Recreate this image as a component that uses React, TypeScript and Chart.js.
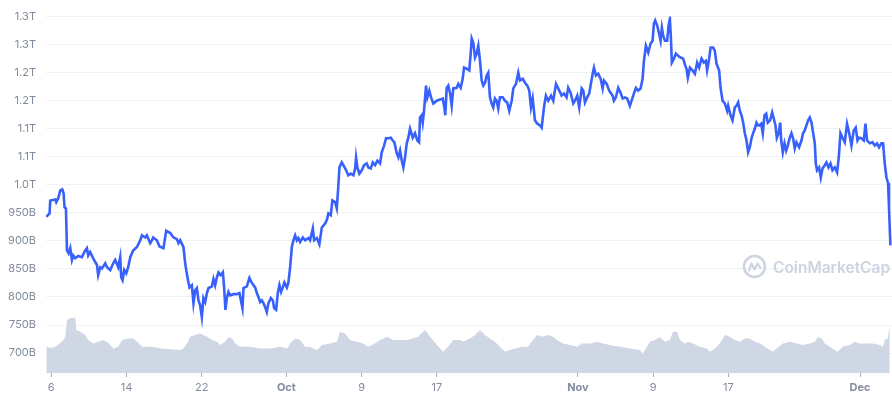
import { useEffect, useRef } from "react";
import { Chart, registerables } from "chart.js";

Chart.register(...registerables);

// Day of the timeline (1 = Sep 1, 31 = Oct 1, 62 = Nov 1, 92 = Dec 1)
const capDays = [
  5.47, 5.82, 5.89, 6.43, 6.53, 6.74, 6.96, 7.17, 7.31, 7.41, 7.56, 7.67, 7.84, 8.02, 8.2, 8.34, 8.55, 8.87, 9.26, 9.61,
  9.79, 9.93, 10.14, 10.46, 10.86, 10.99, 11.21, 11.39, 11.74, 11.92, 12.27, 12.59, 12.8, 13.12, 13.33, 13.44, 13.58, 13.76, 13.97, 14.18,
  14.4, 14.71, 15.11, 15.46, 15.64, 15.99, 16.17, 16.52, 16.7, 16.84, 17.23, 17.51, 17.93, 18.22, 18.65, 19.0, 19.36, 19.53, 19.71, 20.06,
  20.24, 20.48, 20.7, 20.95, 21.12, 21.3, 21.48, 21.65, 21.83, 22.01, 22.18, 22.37, 22.55, 22.72, 23.08, 23.25, 23.43, 23.61, 23.78, 24.03,
  24.25, 24.38, 24.52, 24.67, 24.84, 25.02, 25.37, 25.73, 26.01, 26.16, 26.33, 26.44, 26.8, 27.07, 27.33, 27.68, 27.86, 28.03, 28.21, 28.39,
  28.56, 28.74, 28.92, 29.09, 29.35, 29.56, 29.7, 29.91, 30.09, 30.26, 30.44, 30.62, 30.79, 31.05, 31.22, 31.4, 31.58, 31.75, 31.93, 32.11,
  32.28, 32.46, 32.75, 32.99, 33.34, 33.52, 33.81, 33.95, 34.24, 34.51, 34.77, 35.12, 35.3, 35.47, 35.72, 35.89, 36.18, 36.36, 36.53, 36.64,
  36.89, 37.06, 37.35, 37.59, 37.85, 38.13, 38.31, 38.41, 38.55, 38.76, 39.02, 39.26, 39.55, 39.72, 39.97, 40.19, 40.43, 40.68, 40.96, 41.14,
  41.39, 41.6, 41.85, 42.1, 42.31, 42.48, 42.74, 42.91, 43.09, 43.27, 43.44, 43.62, 43.8, 43.97, 44.15, 44.44, 44.68, 44.93, 45.11, 45.21,
  45.39, 45.5, 45.64, 45.85, 45.99, 46.2, 46.38, 46.63, 46.99, 47.34, 47.63, 47.8, 47.9, 48.05, 48.22, 48.4, 48.58, 48.75, 49.11, 49.28,
  49.54, 49.75, 49.89, 50.18, 50.45, 50.6, 50.71, 50.88, 51.06, 51.24, 51.41, 51.59, 51.77, 51.94, 52.12, 52.3, 52.47, 52.65, 52.83, 53.0,
  53.18, 53.36, 53.53, 53.71, 54.0, 54.25, 54.49, 54.7, 54.96, 55.13, 55.42, 55.66, 55.84, 56.13, 56.37, 56.62, 56.83, 57.01, 57.19, 57.43,
  57.68, 57.97, 58.15, 58.39, 58.6, 58.85, 59.14, 59.38, 59.67, 59.91, 60.27, 60.52, 60.8, 60.97, 61.23, 61.51, 61.69, 61.93, 62.14, 62.4,
  62.57, 62.75, 62.99, 63.21, 63.35, 63.57, 63.71, 63.92, 64.16, 64.42, 64.63, 64.77, 65.06, 65.33, 65.69, 65.83, 66.04, 66.29, 66.54, 66.76,
  67.0, 67.24, 67.53, 67.71, 67.96, 68.17, 68.41, 68.67, 68.88, 69.02, 69.23, 69.48, 69.73, 69.94, 70.08, 70.22, 70.43, 70.64, 70.79, 70.93,
  71.07, 71.25, 71.49, 71.64, 71.78, 71.89, 71.99, 72.21, 72.42, 72.66, 72.92, 73.19, 73.41, 73.55, 73.69, 73.91, 74.19, 74.44, 74.68, 74.89,
  75.15, 75.39, 75.61, 75.74, 75.96, 76.11, 76.38, 76.56, 76.74, 77.02, 77.17, 77.38, 77.63, 77.87, 77.98, 78.23, 78.44, 78.69, 78.87, 79.04,
  79.22, 79.4, 79.57, 79.75, 79.93, 80.1, 80.28, 80.46, 80.63, 80.81, 80.99, 81.16, 81.31, 81.49, 81.66, 81.84, 82.02, 82.19, 82.44, 82.66,
  82.8, 83.01, 83.15, 83.36, 83.51, 83.62, 83.79, 83.97, 84.15, 84.32, 84.53, 84.71, 84.88, 85.06, 85.24, 85.52, 85.77, 85.94, 86.12, 86.3,
  86.48, 86.66, 86.84, 87.01, 87.19, 87.3, 87.43, 87.65, 87.83, 88.01, 88.25, 88.43, 88.65, 88.86, 89.07, 89.32, 89.56, 89.74, 89.92, 90.14,
  90.38, 90.62, 90.84, 91.09, 91.33, 91.54, 91.73, 91.9, 92.15, 92.4, 92.58, 92.75, 93.04, 93.32, 93.57, 93.81, 94.02, 94.28, 94.45, 94.63,
  94.81, 94.98, 95.08, 95.23,
];

// Market cap, in billions of USD
const capBillions = [
  943, 949, 972, 974, 969, 976, 990, 992, 985, 960, 958, 883, 878, 887, 866, 874, 869, 873, 871, 883,
  887, 874, 880, 869, 857, 839, 853, 851, 860, 853, 848, 860, 866, 853, 871, 835, 830, 848, 842, 853,
  871, 883, 889, 901, 910, 906, 910, 896, 901, 906, 901, 890, 887, 918, 914, 906, 903, 896, 901, 889,
  860, 835, 817, 821, 789, 812, 816, 794, 785, 764, 798, 791, 807, 816, 819, 832, 821, 835, 844, 839,
  844, 817, 777, 798, 809, 803, 805, 805, 807, 794, 780, 816, 819, 834, 825, 817, 807, 800, 791, 794,
  789, 782, 773, 789, 798, 794, 780, 777, 807, 821, 809, 817, 826, 817, 826, 853, 889, 901, 910, 901,
  905, 898, 906, 901, 905, 901, 922, 901, 905, 894, 924, 931, 937, 949, 946, 972, 969, 958, 999, 1031,
  1040, 1035, 1026, 1017, 1020, 1017, 1029, 1049, 1031, 1020, 1026, 1035, 1038, 1031, 1029, 1040, 1035, 1043, 1038, 1058,
  1070, 1083, 1083, 1084, 1079, 1076, 1056, 1049, 1061, 1043, 1031, 1049, 1074, 1084, 1100, 1084, 1092, 1079, 1076, 1120,
  1124, 1111, 1132, 1177, 1156, 1168, 1156, 1145, 1150, 1152, 1154, 1138, 1124, 1173, 1177, 1164, 1141, 1172, 1173, 1180,
  1173, 1189, 1209, 1207, 1204, 1234, 1261, 1253, 1227, 1234, 1248, 1221, 1186, 1177, 1182, 1195, 1200, 1156, 1145, 1138,
  1154, 1150, 1136, 1156, 1156, 1150, 1147, 1132, 1150, 1172, 1180, 1200, 1186, 1189, 1182, 1177, 1168, 1138, 1154, 1115,
  1109, 1106, 1102, 1138, 1159, 1150, 1159, 1150, 1180, 1172, 1159, 1163, 1156, 1173, 1164, 1145, 1150, 1159, 1138, 1172,
  1168, 1147, 1156, 1163, 1177, 1198, 1209, 1195, 1198, 1189, 1172, 1186, 1180, 1168, 1159, 1150, 1156, 1173, 1164, 1154,
  1156, 1154, 1141, 1150, 1163, 1173, 1168, 1172, 1189, 1221, 1248, 1236, 1252, 1257, 1287, 1293, 1284, 1269, 1257, 1280,
  1266, 1257, 1257, 1284, 1296, 1262, 1218, 1225, 1234, 1230, 1227, 1225, 1213, 1207, 1191, 1209, 1204, 1198, 1218, 1209,
  1225, 1218, 1221, 1204, 1225, 1245, 1245, 1239, 1216, 1204, 1173, 1150, 1145, 1132, 1141, 1124, 1115, 1138, 1141, 1147,
  1132, 1124, 1111, 1092, 1079, 1058, 1067, 1083, 1092, 1100, 1111, 1106, 1106, 1109, 1092, 1124, 1127, 1111, 1115, 1129,
  1120, 1106, 1084, 1093, 1111, 1079, 1058, 1074, 1061, 1070, 1084, 1092, 1083, 1065, 1076, 1067, 1079, 1092, 1097, 1106,
  1115, 1120, 1111, 1093, 1074, 1038, 1026, 1031, 1013, 1029, 1035, 1040, 1031, 1038, 1026, 1031, 1022, 1049, 1092, 1084,
  1076, 1109, 1093, 1070, 1097, 1102, 1079, 1084, 1083, 1079, 1109, 1079, 1074, 1076, 1070, 1074, 1067, 1074, 1074, 1038,
  1013, 1003, 960, 892,
];

const volumeDays = [
  5.47, 5.89, 6.43, 6.96, 7.28, 7.49, 7.67, 8.02, 8.55, 8.66, 9.08, 9.61, 9.93, 10.46, 10.99, 11.53, 12.06, 12.59, 13.12, 13.55,
  14.18, 14.71, 15.14, 15.67, 16.52, 17.37, 17.58, 18.65, 19.71, 20.03, 20.45, 20.77, 21.3, 21.83, 22.15, 22.58, 23.11, 23.64, 23.96, 24.49,
  24.81, 25.23, 25.55, 26.09, 27.15, 28.21, 29.27, 30.34, 31.08, 31.4, 31.93, 32.46, 32.99, 33.52, 33.84, 34.27, 34.8, 35.65, 36.39, 36.71,
  37.24, 37.77, 38.52, 39.16, 39.69, 40.43, 40.96, 41.71, 42.34, 43.09, 43.83, 44.36, 45.0, 45.75, 46.28, 47.02, 47.66, 48.19, 48.72, 49.47,
  49.78, 50.53, 51.06, 51.59, 52.12, 52.65, 53.18, 53.71, 54.25, 54.78, 55.31, 56.05, 56.69, 57.22, 57.65, 58.28, 58.82, 59.35, 59.77, 60.41,
  61.16, 61.9, 62.43, 63.28, 64.02, 64.66, 65.41, 66.47, 67.53, 68.59, 68.91, 69.34, 69.66, 70.19, 70.72, 71.25, 71.78, 72.1, 72.53, 72.85,
  73.38, 73.7, 74.23, 74.97, 75.71, 76.03, 76.56, 77.09, 77.63, 78.16, 78.69, 79.22, 79.75, 80.28, 80.81, 81.35, 81.88, 82.41, 82.73, 83.15,
  83.79, 84.53, 85.28, 85.91, 86.66, 87.19, 87.51, 87.94, 88.25, 88.78, 89.32, 89.63, 90.16, 90.91, 91.44, 91.97, 92.72, 93.36, 94.1, 94.42,
  94.63, 94.95, 95.16,
];

// 24h volume, in billions of USD
const volumeBillions = [
  22.1, 21.0, 22.1, 25.2, 27.7, 30.5, 44.5, 46.2, 46.5, 36.1, 34.7, 31.9, 27.7, 24.9, 26.3, 27.7, 25.2, 20.7, 22.1, 27.7,
  29.1, 29.1, 26.3, 22.1, 22.1, 21.3, 20.7, 19.9, 19.3, 20.7, 24.9, 30.5, 31.9, 33.3, 31.9, 30.5, 27.7, 26.3, 23.5, 26.3,
  30.0, 29.1, 24.9, 22.1, 22.1, 20.7, 20.7, 22.1, 20.7, 24.9, 29.1, 27.7, 22.1, 22.1, 20.7, 19.3, 23.5, 24.9, 26.3, 34.7,
  33.3, 27.7, 26.3, 24.9, 22.1, 24.9, 27.7, 30.5, 27.7, 27.7, 27.7, 29.1, 30.5, 36.1, 30.5, 23.5, 17.9, 22.1, 27.7, 27.7,
  26.3, 29.1, 31.9, 36.1, 31.9, 29.1, 26.3, 22.1, 17.9, 19.3, 20.7, 22.1, 22.1, 27.7, 31.9, 30.5, 31.9, 30.5, 27.7, 24.9,
  23.5, 22.1, 24.9, 24.9, 26.3, 24.9, 23.5, 22.1, 20.7, 19.3, 16.5, 22.1, 26.3, 27.7, 30.0, 26.3, 27.7, 34.7, 34.7, 27.7,
  24.9, 26.3, 24.9, 22.1, 20.7, 17.9, 20.7, 24.9, 31.9, 30.5, 27.7, 26.3, 29.1, 29.1, 26.3, 24.9, 22.1, 19.3, 17.9, 20.7,
  24.9, 26.3, 24.9, 23.5, 24.9, 26.3, 30.0, 29.1, 24.9, 22.1, 19.3, 17.9, 22.1, 23.5, 26.3, 24.9, 24.9, 24.9, 23.5, 22.1,
  27.7, 29.1, 40.3,
];

const yTickValues = [700, 750, 800, 850, 900, 950, 1000, 1050, 1100, 1150, 1200, 1250, 1300];
const xTickDays = [6, 14, 22, 31, 39, 47, 62, 70, 78, 92];
const xTickLabels = ["6", "14", "22", "Oct", "9", "17", "Nov", "9", "17", "Dec"];
const monthLabels = ["Oct", "Nov", "Dec"];

function formatCap(v: number): string {
  if (v >= 1000) return (Math.round(v / 100) / 10).toFixed(1) + "T";
  return v + "B";
}

export default function App() {
  const canvasRef = useRef<HTMLCanvasElement | null>(null);

  useEffect(() => {
    if (!canvasRef.current) return;
    const chart = new Chart(canvasRef.current, {
      type: "line",
      data: {
        datasets: [
          {
            label: "Market Cap",
            data: capDays.map((d, i) => ({ x: d, y: capBillions[i] })),
            borderColor: "#3861FB",
            borderWidth: 2.6,
            pointRadius: 0,
            fill: false,
            tension: 0,
            yAxisID: "y",
            order: 0,
          },
          {
            label: "Volume",
            data: volumeDays.map((d, i) => ({ x: d, y: volumeBillions[i] })),
            borderWidth: 0,
            borderColor: "rgba(0,0,0,0)",
            backgroundColor: "#CFD6E4",
            fill: "origin",
            pointRadius: 0,
            tension: 0,
            yAxisID: "vol",
            order: 1,
          },
        ],
      },
      options: {
        animation: false,
        responsive: false,
        layout: { padding: { top: 16, right: 0, bottom: 0, left: 0 } },
        plugins: { legend: { display: false }, tooltip: { enabled: false } },
        scales: {
          x: {
            type: "linear",
            min: 5.44,
            max: 95.4,
            afterBuildTicks: (s: any) => {
              s.ticks = xTickDays.map((v) => ({ value: v }));
            },
            afterFit: (s: any) => {
              s.height = 27;
            },
            ticks: {
              autoSkip: false,
              maxRotation: 0,
              padding: 4,
              color: "#858CA2",
              font: (ctx: any) => ({
                family: "Inter",
                size: 11,
                weight: monthLabels.includes(xTickLabels[ctx.index]) ? "bold" : "normal",
              }),
              callback: (_v: any, i: number) => xTickLabels[i],
            },
            grid: { drawOnChartArea: false, drawTicks: true, tickLength: 4, color: "#A6B0C3" },
            border: { display: false },
          },
          y: {
            type: "linear",
            position: "left",
            min: 664.4,
            max: 1300,
            afterBuildTicks: (s: any) => {
              s.ticks = yTickValues.map((v) => ({ value: v }));
            },
            afterFit: (s: any) => {
              s.width = 46;
            },
            ticks: {
              padding: 10,
              color: "#808A9D",
              font: { family: "Inter", size: 11 },
              callback: (v: any) => formatCap(Number(v)),
            },
            grid: { color: "#EFF2F5", drawTicks: false },
            border: { display: false },
          },
          vol: {
            type: "linear",
            display: false,
            min: 0,
            max: 300,
          },
        },
      },
    } as any);
    return () => chart.destroy();
  }, []);

  const wm = "#CDD3E0";
  return (
    <div style={{ position: "absolute", left: 0, top: 0, width: 892, height: 400, background: "#fff" }}>
      <canvas ref={canvasRef} width={892} height={400} style={{ position: "absolute", left: 0, top: 0 }} />
      <svg
        width={25}
        height={25}
        viewBox="0 0 25 25"
        style={{ position: "absolute", left: 742, top: 254, pointerEvents: "none" }}
      >
        <circle cx={12.5} cy={12.5} r={10.5} fill="none" stroke={wm} strokeWidth={2.4} />
        <polyline
          points="7,16.5 9.5,9.5 12.5,15.5 15.5,9.5 18.5,14"
          fill="none"
          stroke={wm}
          strokeWidth={2.2}
          strokeLinejoin="round"
          strokeLinecap="round"
        />
      </svg>
      <span
        style={{
          position: "absolute",
          left: 773,
          top: 260,
          fontFamily: "Inter",
          fontWeight: 600,
          fontSize: 15.5,
          lineHeight: "16px",
          color: wm,
          whiteSpace: "nowrap",
          pointerEvents: "none",
        }}
      >
        CoinMarketCap
      </span>
    </div>
  );
}
